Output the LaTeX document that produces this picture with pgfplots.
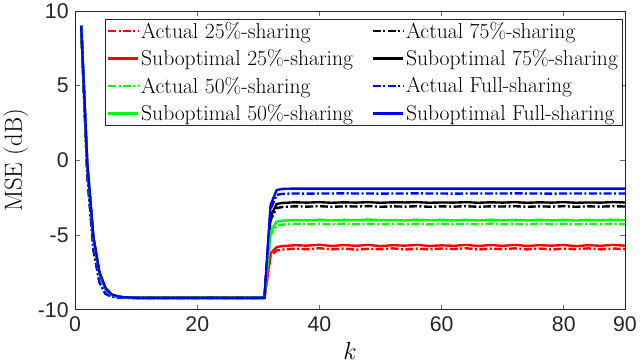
\documentclass[border=0pt]{standalone}
\usepackage{fontspec}
\usepackage{pgfplots}
\usepackage{pgfplotstable}
\pgfplotsset{compat=1.18}
\newfontfamily\tickfont{Liberation Sans}
\definecolor{axgray}{RGB}{38,38,38}
\definecolor{mred}{RGB}{255,0,0}
\definecolor{mgreen}{RGB}{0,255,0}
\definecolor{mblue}{RGB}{0,0,255}

% columns: actual / suboptimal for 25%, 50%, 75% and full sharing
\pgfplotstableread{
k    a25    s25    a50    s50    a75    s75    aF     sF
1    9.00   9.00   9.00   9.00   9.00   9.00   9.00   9.00
2   -0.90  -0.30  -0.85  -0.30  -0.90  -0.30  -1.00  -0.20
3   -5.90  -5.20  -5.85  -5.20  -5.90  -5.20  -6.00  -5.10
4   -8.10  -7.60  -8.05  -7.60  -8.10  -7.60  -8.20  -7.50
5   -8.90  -8.60  -8.90  -8.60  -8.90  -8.60  -8.95  -8.55
6   -9.10  -9.00  -9.10  -9.00  -9.10  -9.00  -9.12  -8.98
7   -9.17  -9.12  -9.17  -9.12  -9.17  -9.12  -9.18  -9.10
8   -9.20  -9.17  -9.20  -9.17  -9.20  -9.17  -9.20  -9.16
10  -9.20  -9.20  -9.20  -9.20  -9.20  -9.20  -9.20  -9.20
20  -9.20  -9.20  -9.20  -9.20  -9.20  -9.20  -9.20  -9.20
31  -9.20  -9.20  -9.20  -9.20  -9.20  -9.20  -9.20  -9.20
32  -6.42  -6.23  -5.00  -4.78  -4.00  -3.78  -3.27  -2.99
33  -6.03  -5.80  -4.36  -4.10  -3.19  -2.92  -2.32  -1.99
34  -5.97  -5.74  -4.30  -4.04  -3.12  -2.85  -2.24  -1.91
36  -5.91  -5.68  -4.24  -3.99  -3.08  -2.81  -2.22  -1.89
38  -5.95  -5.71  -4.27  -4.02  -3.10  -2.83  -2.23  -1.89
40  -5.88  -5.65  -4.25  -3.97  -3.07  -2.80  -2.22  -1.89
42  -5.96  -5.73  -4.29  -4.03  -3.11  -2.84  -2.22  -1.89
44  -5.90  -5.67  -4.23  -3.98  -3.08  -2.81  -2.21  -1.89
46  -5.98  -5.72  -4.27  -4.01  -3.09  -2.83  -2.22  -1.89
48  -5.92  -5.66  -4.25  -3.96  -3.06  -2.80  -2.22  -1.89
50  -5.95  -5.74  -4.28  -4.02  -3.11  -2.84  -2.23  -1.89
52  -5.89  -5.68  -4.24  -3.99  -3.08  -2.81  -2.22  -1.89
54  -5.97  -5.71  -4.27  -4.03  -3.10  -2.82  -2.22  -1.89
56  -5.91  -5.66  -4.25  -3.97  -3.07  -2.80  -2.21  -1.89
58  -5.96  -5.73  -4.29  -4.01  -3.11  -2.84  -2.22  -1.89
60  -5.90  -5.69  -4.24  -3.98  -3.08  -2.82  -2.22  -1.89
62  -5.94  -5.72  -4.27  -4.02  -3.10  -2.83  -2.23  -1.89
64  -5.88  -5.66  -4.25  -3.98  -3.07  -2.80  -2.22  -1.89
66  -5.97  -5.73  -4.28  -4.03  -3.11  -2.84  -2.22  -1.89
68  -5.91  -5.67  -4.23  -3.97  -3.08  -2.81  -2.22  -1.89
70  -5.95  -5.72  -4.27  -4.01  -3.09  -2.83  -2.22  -1.89
72  -5.89  -5.66  -4.25  -3.98  -3.07  -2.80  -2.21  -1.89
74  -5.96  -5.73  -4.29  -4.02  -3.11  -2.84  -2.22  -1.89
76  -5.90  -5.68  -4.24  -3.97  -3.08  -2.81  -2.22  -1.89
78  -5.97  -5.71  -4.27  -4.02  -3.10  -2.83  -2.23  -1.89
80  -5.91  -5.67  -4.25  -3.98  -3.07  -2.80  -2.22  -1.89
82  -5.95  -5.74  -4.28  -4.03  -3.11  -2.84  -2.22  -1.89
84  -5.89  -5.68  -4.24  -3.98  -3.08  -2.82  -2.22  -1.89
86  -5.96  -5.72  -4.27  -4.01  -3.10  -2.83  -2.22  -1.89
88  -5.90  -5.66  -4.25  -3.97  -3.07  -2.80  -2.22  -1.89
90  -5.94  -5.71  -4.27  -4.00  -3.09  -2.82  -2.22  -1.89
}\msedata

\begin{document}
\begin{tikzpicture}
\begin{axis}[
  scale only axis,
  width=553bp, height=300.7bp,
  xmin=0, xmax=90, ymin=-10, ymax=10,
  xtick={0,20,40,60,80,90},
  ytick={-10,-5,0,5,10},
  tick align=inside,
  major tick length=5bp,
  axis line style={axgray, line width=0.6pt},
  tick style={axgray!70, line width=0.6pt},
  /pgf/number format/assume math mode=true,
  ticklabel style={font=\tickfont\fontsize{21.5}{22}\selectfont, text=axgray},
  xticklabel style={yshift=-3bp},
  yticklabel style={xshift=-3bp},
  xlabel={$k$},
  xlabel style={font=\fontsize{25}{25}\selectfont, yshift=-4bp},
  ylabel={MSE (dB)},
  ylabel style={font=\fontsize{25}{25}\selectfont, yshift=3bp},
  legend columns=2,
  legend cell align=left,
  legend style={at={(0.054,0.974)}, anchor=north west,
    font=\fontsize{21.8}{25}\selectfont, draw=axgray, line width=0.5pt,
    inner xsep=2bp, inner ysep=1.5bp, row sep=5.8bp,
    /tikz/every even column/.append style={column sep=17bp}},
  legend image code/.code={\draw[#1, line width=2.4pt] plot coordinates {(0bp,0bp) (30bp,0bp)};},
  dashdot/.style={dash pattern=on 8pt off 2.5pt on 2pt off 2.5pt},
]
\addplot[mred, line width=2.4pt, dashdot] table[x=k, y=a25] {\msedata};
\addplot[black, line width=2.4pt, dashdot] table[x=k, y=a75] {\msedata};
\addplot[mred, line width=2.4pt] table[x=k, y=s25] {\msedata};
\addplot[black, line width=2.4pt] table[x=k, y=s75] {\msedata};
\addplot[mgreen, line width=2.4pt, dashdot] table[x=k, y=a50] {\msedata};
\addplot[mblue, line width=2.4pt, dashdot] table[x=k, y=aF] {\msedata};
\addplot[mgreen, line width=2.4pt] table[x=k, y=s50] {\msedata};
\addplot[mblue, line width=2.4pt] table[x=k, y=sF] {\msedata};
\legend{Actual 25\%-sharing, Actual 75\%-sharing,
        Suboptimal 25\%-sharing, Suboptimal 75\%-sharing,
        Actual 50\%-sharing, Actual Full-sharing,
        Suboptimal 50\%-sharing, Suboptimal Full-sharing}
\end{axis}
\end{tikzpicture}
\end{document}
